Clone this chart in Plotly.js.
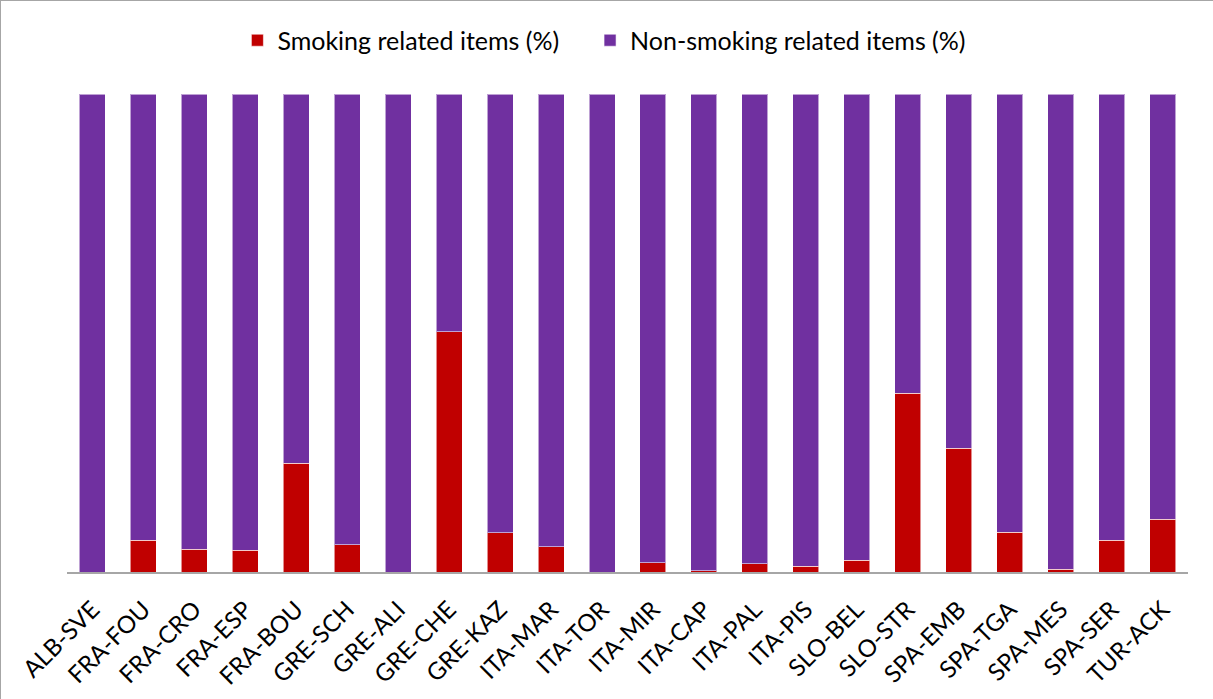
<!DOCTYPE html>
<html>
<head>
<meta charset="utf-8">
<script src="https://cdn.plot.ly/plotly-3.0.1.min.js"></script>
<style>
html,body{margin:0;padding:0;background:#fff;}
#chart{width:1213px;height:699px;box-sizing:border-box;border:1.5px solid #a6a6a6;}
</style>
</head>
<body>
<div id="chart"></div>
<script>
var sites = ["ALB-SVE","FRA-FOU","FRA-CRO","FRA-ESP","FRA-BOU","GRE-SCH","GRE-ALI","GRE-CHE","GRE-KAZ","ITA-MAR","ITA-TOR","ITA-MIR","ITA-CAP","ITA-PAL","ITA-PIS","SLO-BEL","SLO-STR","SPA-EMB","SPA-TGA","SPA-MES","SPA-SER","TUR-ACK"];
var smoking = [0, 6.6, 4.8, 4.5, 22.7, 5.7, 0, 50.3, 8.2, 5.3, 0, 1.9, 0.3, 1.7, 1.2, 2.5, 37.4, 25.9, 8.3, 0.6, 6.6, 11.0];
var nonSmoking = [100, 93.4, 95.2, 95.5, 77.3, 94.3, 100, 49.7, 91.8, 94.7, 100, 98.1, 99.7, 98.3, 98.8, 97.5, 62.6, 74.1, 91.7, 99.4, 93.4, 89.0];

var font = "Lato, 'Open Sans', sans-serif";
var traces = [
  {type:"bar", name:"Smoking related items (%)", x:sites, y:smoking, legend:"legend",
   marker:{color:"#C00000", line:{color:"rgba(255,255,255,0.55)", width:1}}},
  {type:"bar", name:"Non-smoking related items (%)", x:sites, y:nonSmoking, legend:"legend2",
   marker:{color:"#7030A0", line:{color:"rgba(255,255,255,0.55)", width:1}}}
];
var legendBase = {orientation:"h", xanchor:"left", y:1.112, yanchor:"middle",
                  font:{family:font, size:25, color:"#000"}, itemwidth:30, bgcolor:"rgba(0,0,0,0)"};
var layout = {
  width:1213, height:699,
  margin:{l:66, r:26, t:93, b:128},
  barmode:"stack", bargap:0.49,
  paper_bgcolor:"#fff", plot_bgcolor:"#fff",
  font:{family:font, color:"#000", size:18},
  showlegend:true,
  legend:Object.assign({}, legendBase, {x:0.152}),
  legend2:Object.assign({}, legendBase, {x:0.4666}),
  xaxis:{type:"category", tickangle:-45, showline:true, linecolor:"#a6a6a6", linewidth:2,
         ticks:"outside", ticklen:12, tickcolor:"rgba(0,0,0,0)",
         showgrid:false, zeroline:false, tickfont:{family:font, size:24, color:"#000"}},
  yaxis:{range:[0,100], visible:false, showgrid:false, zeroline:false}
};
Plotly.newPlot("chart", traces, layout, {displayModeBar:false, staticPlot:true});
</script>
</body>
</html>
